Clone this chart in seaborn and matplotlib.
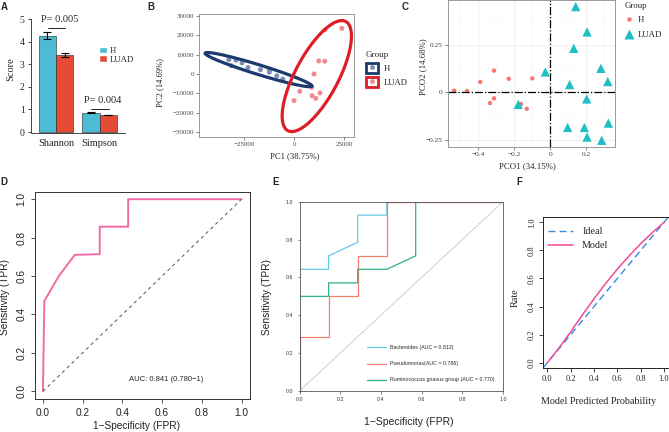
import numpy as np
import pandas as pd
import seaborn as sns
import matplotlib.pyplot as plt
from matplotlib.patches import Patch, Rectangle
from matplotlib.lines import Line2D

# ---------------- data ----------------
# A: diversity indices
div_index = ['Shannon', 'Simpson']
div_groups = ['H', 'LUAD']
div_mean_h = [4.27, 0.86]
div_mean_luad = [3.41, 0.76]
div_se_h = [0.16, 0.02]
div_se_luad = [0.08, 0.015]
div_p_labels = ['P= 0.005', 'P= 0.004']
div_p_height = [4.6, 1.02]

# B: PCA
pca_h_pc1 = [-32800, -31500, -29200, -26200, -23200, -17000, -12500, -12500, -8800, -5800]
pca_h_pc2 = [7400, 4300, 7100, 5700, 3300, 2200, 1900, 900, -1000, -2600]
pca_luad_pc1 = [15300, 23700, 12200, 15200, 9800, 2700, 8800, 8700, 12800, 10700, -200]
pca_luad_pc2 = [22800, 23600, 6700, 6600, 0, -9000, -11200, -6900, -9800, -12600, -13800]
ell_h_center = [-18000, 2250]
ell_h_axis1 = [26700, -8450]
ell_h_axis2 = [0, 2600]
ell_luad_center = [11200, -1100]
ell_luad_axis1 = [12500, 28700]
ell_luad_axis2 = [12000, 0]

# C: PCoA
pco_h_x = [-0.535, -0.463, -0.389, -0.313, -0.231, -0.100, -0.335, -0.313, -0.163, -0.131]
pco_h_y = [0.009, 0.007, 0.055, 0.115, 0.072, 0.074, -0.057, -0.032, -0.062, -0.087]
pco_luad_x = [0.141, 0.204, 0.130, -0.028, 0.281, 0.319, 0.107, 0.202, -0.178, 0.096, 0.189, 0.322, 0.204, 0.285]
pco_luad_y = [0.454, 0.320, 0.233, 0.108, 0.127, 0.057, 0.041, -0.035, -0.064, -0.186, -0.186, -0.163, -0.237, -0.254]

# D: ROC of combined model
roc_fpr = [0, 0.007, 0.08, 0.16, 0.286, 0.286, 0.429, 0.429, 1.0]
roc_tpr = [0, 0.47, 0.60, 0.71, 0.714, 0.857, 0.857, 1.0, 1.0]
roc_auc_text = 'AUC: 0.841 (0.780\u22121)'

# E: ROC per genus
genus_names = ['Bacteroides (AUC = 0.812)', 'Pseudomonas(AUC = 0.786)',
               'Ruminococcus gnavus group (AUC = 0.770)']
bact_fpr = [0, 0, 0.143, 0.143, 0.286, 0.286, 0.429, 0.429, 1]
bact_tpr = [0, 0.643, 0.643, 0.714, 0.786, 0.929, 0.929, 1, 1]
pseu_fpr = [0, 0, 0.143, 0.143, 0.286, 0.286, 0.429, 0.429, 1]
pseu_tpr = [0, 0.286, 0.286, 0.5, 0.5, 0.714, 0.714, 1, 1]
rumi_fpr = [0, 0, 0.143, 0.143, 0.286, 0.286, 0.429, 0.571, 0.571, 1]
rumi_tpr = [0, 0.5, 0.5, 0.571, 0.571, 0.643, 0.643, 0.714, 1, 1]

# F: calibration
cal_pred = [0, 0.1, 0.2, 0.3, 0.4, 0.5, 0.6, 0.7, 0.8, 0.9, 1.0]
cal_rate = [0, 0.105, 0.22, 0.34, 0.455, 0.565, 0.667, 0.76, 0.848, 0.927, 1.0]

# ---------------- style ----------------
sns.set_style('ticks')
SERIF = ['Liberation Serif', 'DejaVu Serif']
SANS = ['Liberation Sans', 'DejaVu Sans']
plt.rcParams['font.family'] = SANS

c_h = '#4DBBD5'
c_luad = '#E64B35'

W, H = 669, 432
fig = plt.figure(figsize=(W / 100, H / 100), dpi=100)


def add_ax(l, t, r, b):
    return fig.add_axes([l / W, 1 - b / H, (r - l) / W, (b - t) / H])


def ylab(ax, text, x, y, **kw):
    ax.set_ylabel(text, **kw)
    ax.yaxis.set_label_coords(x, y)


def xlab(ax, text, x, y, **kw):
    ax.set_xlabel(text, **kw)
    ax.xaxis.set_label_coords(x, y)


# ---------------- A ----------------
axA = add_ax(31, 5, 125, 133)
dfA = pd.DataFrame({'index': div_index * 2,
                    'group': ['H'] * 2 + ['LUAD'] * 2,
                    'score': div_mean_h + div_mean_luad})
sns.barplot(data=dfA, x='index', y='score', hue='group', hue_order=div_groups,
            palette=[c_h, c_luad], errorbar=None, width=0.8, saturation=1,
            edgecolor='#222222', linewidth=0.4, legend=False, ax=axA)
err_lookup = dict(zip(div_mean_h + div_mean_luad, div_se_h + div_se_luad))
for p in axA.patches:
    h = p.get_height()
    e = min(err_lookup.items(), key=lambda kv: abs(kv[0] - h))[1]
    axA.errorbar(p.get_x() + p.get_width() / 2, h, yerr=e, color='black',
                 lw=0.8, capsize=3, capthick=0.8)
for i, (lab, yh) in enumerate(zip(div_p_labels, div_p_height)):
    axA.plot([i - 0.19, i + 0.21], [yh, yh], color='black', lw=0.6)
    axA.text(i + 0.08, yh + 0.18, lab, ha='center', va='bottom',
             fontsize=7.5, family=SERIF)
axA.set_xlim(-0.575, 1.586)
axA.set_ylim(-0.04, 5.62)
axA.set_yticks([0, 1, 2, 3, 4, 5])
axA.spines[['top', 'right']].set_visible(False)
axA.spines['left'].set_bounds(0, 5)
for s in axA.spines.values():
    s.set_linewidth(0.6)
axA.tick_params(axis='y', length=2.5, width=0.6, pad=2, labelsize=7)
axA.tick_params(axis='x', length=0, pad=4, labelsize=7.5)
for t in axA.get_xticklabels() + axA.get_yticklabels():
    t.set_family(SERIF)
axA.set_xlabel('')
ylab(axA, 'Score', -0.17, 0.5, fontsize=7.5, family=SERIF)
axA.legend(handles=[Patch(facecolor=c_h), Patch(facecolor=c_luad)],
           labels=div_groups, loc='upper left', bbox_to_anchor=(0.72, 0.675),
           frameon=False, borderpad=0, borderaxespad=0, handlelength=0.9,
           handleheight=0.8, handletextpad=0.4, labelspacing=0.05,
           prop={'family': SERIF, 'size': 6.3})

# ---------------- B ----------------
axB = add_ax(199, 14, 354, 137)
dfB = pd.DataFrame({'pc1': pca_h_pc1 + pca_luad_pc1,
                    'pc2': pca_h_pc2 + pca_luad_pc2,
                    'group': ['H'] * len(pca_h_pc1) + ['LUAD'] * len(pca_luad_pc1)})
ptB = {'H': '#7D8FB8', 'LUAD': '#EF8A93'}
ellB = {'H': '#1D3A6E', 'LUAD': '#DD1F26'}
sns.scatterplot(data=dfB, x='pc1', y='pc2', hue='group', palette=ptB, s=13,
                edgecolor='none', legend=False, ax=axB)
tt = np.linspace(0, 2 * np.pi, 240)
for g, c, a1, a2 in [('H', ell_h_center, ell_h_axis1, ell_h_axis2),
                     ('LUAD', ell_luad_center, ell_luad_axis1, ell_luad_axis2)]:
    ex = c[0] + a1[0] * np.cos(tt) + a2[0] * np.sin(tt)
    ey = c[1] + a1[1] * np.cos(tt) + a2[1] * np.sin(tt)
    axB.plot(ex, ey, color=ellB[g], lw=2.3)
axB.set_xlim(-47700, 29800)
axB.set_ylim(-32600, 31000)
axB.set_xticks([-25000, 0, 25000])
axB.set_yticks([-30000, -20000, -10000, 0, 10000, 20000, 30000])
for s in axB.spines.values():
    s.set_color('#8A8A8A')
    s.set_linewidth(0.6)
axB.tick_params(length=2.2, width=0.5, color='#555555', pad=1.5, labelsize=5,
                labelcolor='#444444')
for t in axB.get_xticklabels() + axB.get_yticklabels():
    t.set_family(SERIF)
xlab(axB, 'PC1 (38.75%)', 0.62, -0.125, fontsize=6.2, family=SERIF)
ylab(axB, 'PC2 (14.69%)', -0.225, 0.44, fontsize=6.2, family=SERIF)
hB = [(Rectangle((0, 0), 1, 1, facecolor='white', edgecolor=ellB[g], lw=2),
       Line2D([], [], marker='o', ls='none', markerfacecolor=ptB[g],
              markeredgecolor='none', markersize=3.5)) for g in div_groups]
legB = axB.legend(handles=hB, labels=div_groups, title='Group', loc='upper left',
                  bbox_to_anchor=(1.075, 0.7), frameon=False, borderpad=0,
                  borderaxespad=0, handlelength=1.45, handleheight=1.45,
                  handletextpad=0.6, labelspacing=0.45,
                  prop={'family': SERIF, 'size': 6.2},
                  title_fontproperties={'family': SERIF, 'size': 6.5})
legB._legend_box.align = 'left'

# ---------------- C ----------------
axC = add_ax(447.7, 0, 615, 146.7)
dfC = pd.DataFrame({'x': pco_h_x + pco_luad_x, 'y': pco_h_y + pco_luad_y,
                    'group': ['H'] * len(pco_h_x) + ['LUAD'] * len(pco_luad_x)})
palC = {'H': '#F8766D', 'LUAD': '#1FBFC3'}
sns.scatterplot(data=dfC, x='x', y='y', hue='group', palette=palC,
                style='group', markers={'H': 'o', 'LUAD': '^'},
                size='group', sizes={'H': 10, 'LUAD': 45},
                edgecolor='none', legend=False, ax=axC)
axC.axvline(0, color='black', lw=0.9, ls='-.', zorder=1)
axC.axhline(0, color='black', lw=0.9, ls='-.', zorder=1)
axC.set_xlim(-0.570, 0.359)
axC.set_ylim(-0.288, 0.489)
axC.set_xticks([-0.4, -0.2, 0, 0.2])
axC.set_xticklabels(['\u22120.4', '\u22120.2', '0', '0.2'])
axC.set_yticks([-0.25, 0, 0.25])
axC.set_yticklabels(['\u22120.25', '0', '0.25'])
axC.set_xticks([-0.5, -0.3, -0.1, 0.1, 0.3], minor=True)
axC.set_yticks([-0.125, 0.125, 0.375], minor=True)
axC.grid(True, which='major', color='#EBEBEB', lw=0.5)
axC.grid(True, which='minor', color='#F3F3F3', lw=0.3)
axC.set_axisbelow(True)
for s in axC.spines.values():
    s.set_color('#8A8A8A')
    s.set_linewidth(0.6)
axC.tick_params(which='major', length=2.2, width=0.5, color='#555555', pad=1.5,
                labelsize=5.3, labelcolor='#444444')
axC.tick_params(which='minor', length=0)
for t in axC.get_xticklabels() + axC.get_yticklabels():
    t.set_family(SERIF)
xlab(axC, 'PCO1 (34.15%)', 0.474, -0.105, fontsize=6.3, family=SERIF)
ylab(axC, 'PCO2 (14.68%)', -0.124, 0.545, fontsize=6.3, family=SERIF)
hC = [Line2D([], [], marker='o', ls='none', markerfacecolor=palC['H'],
             markeredgecolor='none', markersize=3.3),
      Line2D([], [], marker='^', ls='none', markerfacecolor=palC['LUAD'],
             markeredgecolor='none', markersize=6.5)]
legC = axC.legend(handles=hC, labels=div_groups, title='Group', loc='upper left',
                  bbox_to_anchor=(1.055, 0.985), frameon=False, borderpad=0,
                  borderaxespad=0, handlelength=1.0, handletextpad=0.6,
                  labelspacing=0.7, prop={'family': SERIF, 'size': 6.3},
                  title_fontproperties={'family': SERIF, 'size': 6.3})
legC._legend_box.align = 'left'

# ---------------- D ----------------
axD = add_ax(35, 191.5, 249.5, 399)
sns.lineplot(x=roc_fpr, y=roc_tpr, sort=False, estimator=None,
             color='#F26BA8', lw=1.4, ax=axD)
axD.plot([0, 1], [0, 1], color='#666666', lw=0.8, ls=(0, (3, 3)))
axD.text(0.62, 0.06, roc_auc_text, ha='center', va='center', fontsize=5.5)
axD.set_xlim(-0.04, 1.04)
axD.set_ylim(-0.04, 1.04)
ticksD = [0, 0.2, 0.4, 0.6, 0.8, 1.0]
axD.set_xticks(ticksD)
axD.set_yticks(ticksD)
axD.set_xticklabels([f'{v:.1f}' for v in ticksD])
axD.set_yticklabels([f'{v:.1f}' for v in ticksD], rotation=90, va='center')
for s in axD.spines.values():
    s.set_color('#333333')
    s.set_linewidth(0.7)
axD.tick_params(length=3.2, width=0.6, color='#333333', pad=3, labelsize=7.3,
                labelcolor='#222222')
xlab(axD, '1\u2212Specificity (FPR)', 0.474, -0.108, fontsize=7.3, color='#222222')
ylab(axD, 'Sensitivity (TPR)', -0.118, 0.493, fontsize=7.3, color='#222222')

# ---------------- E ----------------
axE = add_ax(299.5, 201.7, 503, 391)
dfE = pd.DataFrame({
    'fpr': bact_fpr + pseu_fpr + rumi_fpr,
    'tpr': bact_tpr + pseu_tpr + rumi_tpr,
    'genus': [genus_names[0]] * len(bact_fpr) + [genus_names[1]] * len(pseu_fpr)
    + [genus_names[2]] * len(rumi_fpr)})
palE = dict(zip(genus_names, ['#62CBE8', '#F47E6E', '#2FB08B']))
axE.plot([0, 1], [0, 1], color='#C8C8C8', lw=0.6)
sns.lineplot(data=dfE, x='fpr', y='tpr', hue='genus', palette=palE, sort=False,
             estimator=None, lw=0.9, legend=False, ax=axE)
axE.set_xlim(0, 1)
axE.set_ylim(0, 1)
axE.set_xticks(ticksD)
axE.set_yticks(ticksD)
axE.set_xticklabels([f'{v:.1f}' for v in ticksD])
axE.set_yticklabels([f'{v:.1f}' for v in ticksD])
for s in axE.spines.values():
    s.set_color('#555555')
    s.set_linewidth(0.6)
axE.tick_params(length=1.8, width=0.5, color='#555555', pad=2.5, labelsize=3.8,
                labelcolor='#333333')
xlab(axE, '1\u2212Specificity (FPR)', 0.535, -0.135, fontsize=7.5, color='#222222')
ylab(axE, 'Sensitivity (TPR)', -0.135, 0.498, fontsize=7.3, color='#222222')
hE = [Line2D([], [], color=palE[g], lw=0.9) for g in genus_names]
axE.legend(handles=hE, labels=genus_names, loc='lower left',
           bbox_to_anchor=(0.33, 0.045), frameon=False, borderpad=0,
           borderaxespad=0, handlelength=3.6, handletextpad=0.85,
           labelspacing=2.1, fontsize=3.8)

# ---------------- F ----------------
axF = add_ax(542.7, 216.7, 668.7, 368.3)
axF.axline((0, 0), (1, 1), color='#3A8EDB', lw=1.0, ls=(0, (5, 3)))
sns.lineplot(x=cal_pred, y=cal_rate, color='#EE4C99', lw=1.1, ax=axF)
axF.set_xlim(-0.04, 1.04)
axF.set_ylim(-0.04, 1.04)
axF.set_xticks(ticksD)
axF.set_yticks(ticksD)
axF.set_xticklabels([f'{v:.1f}' for v in ticksD])
axF.set_yticklabels([f'{v:.1f}' for v in ticksD], rotation=90, va='center')
for s in axF.spines.values():
    s.set_color('#222222')
    s.set_linewidth(0.7)
axF.tick_params(length=2.8, width=0.6, pad=2, labelsize=6)
for t in axF.get_xticklabels() + axF.get_yticklabels():
    t.set_family(SERIF)
xlab(axF, 'Model Predicted Probability', 0.44, -0.19, fontsize=7.3, family=SERIF)
ylab(axF, 'Rate', -0.18, 0.464, fontsize=7.3, family=SERIF)
hF = [Line2D([], [], color='#3A8EDB', lw=1.0, ls=(0, (5, 3))),
      Line2D([], [], color='#EE4C99', lw=1.1)]
axF.legend(handles=hF, labels=['Ideal', 'Model'], loc='upper left',
           bbox_to_anchor=(0.04, 0.93), frameon=False, borderpad=0,
           borderaxespad=0, handlelength=2.5, handletextpad=0.9,
           labelspacing=0.45, prop={'family': SERIF, 'size': 7.3})

# ---------------- panel letters ----------------
for lab, x, y in [('A', 1, 2), ('B', 147, 2), ('C', 402, 2),
                  ('D', 0, 177), ('E', 272, 177), ('F', 516, 177)]:
    fig.text(x / W, 1 - y / H, lab, fontsize=7, fontweight='bold',
             ha='left', va='top')

fig.savefig('out.png', dpi=100)
